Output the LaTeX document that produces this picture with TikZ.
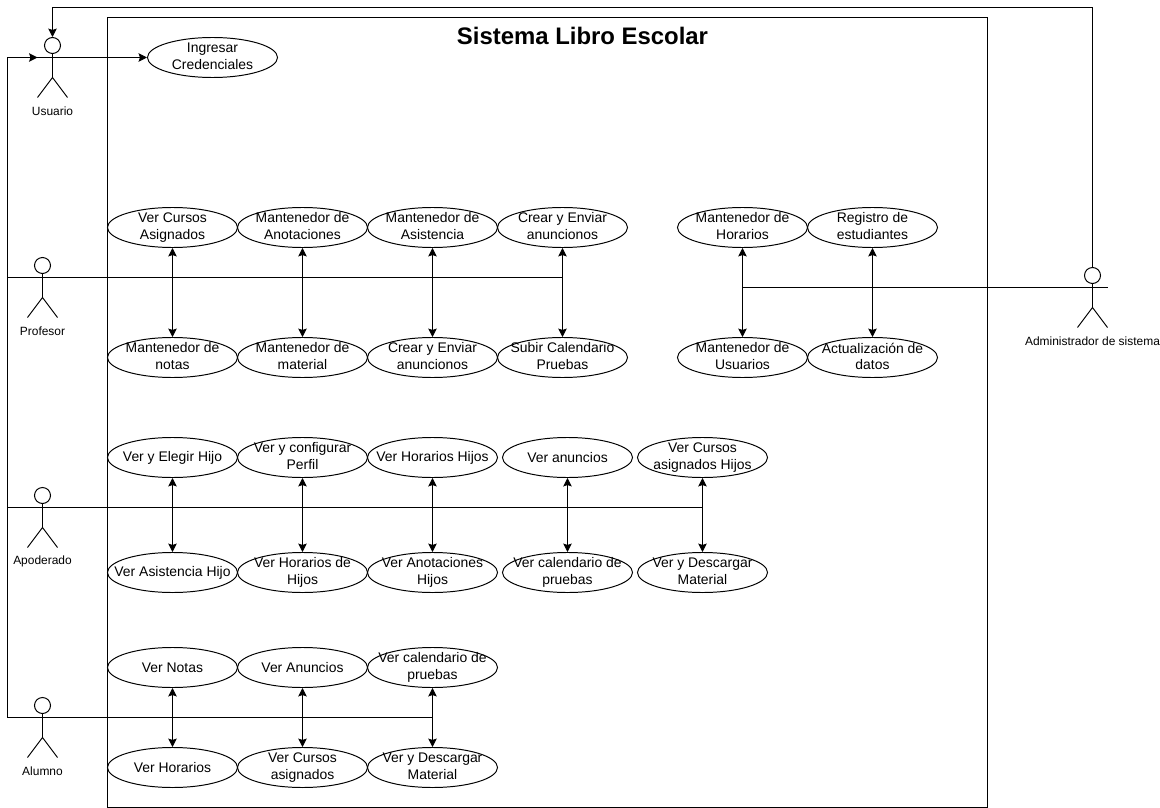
\documentclass[tikz,border=0pt]{standalone}
\usepackage{fontspec}
\setmainfont{Liberation Sans}
\usetikzlibrary{shapes.geometric, arrows.meta}
\newcommand{\guia}{\rule[-1.6pt]{0pt}{10pt}}
\tikzset{
	casouso/.style={draw, linea, ellipse, inner xsep=-2cm, inner ysep=-1cm, minimum width=3.25cm, minimum height=1cm, align=center, font=\fontsize{9.9}{12}\selectfont, execute at begin node=\guia, execute at end node=\guia},
	cabeza/.style={draw, circle, inner sep=0pt, minimum size=0.4cm},
	etiqueta/.style={inner sep=0pt, font=\fontsize{8.5}{10}\selectfont},
	titulo/.style={inner sep=0pt, font=\fontsize{17}{20}\selectfont\bfseries},
	linea/.style={line width=.7pt}
}
% nombre, x, y de la cabeza, y de la etiqueta, texto
\newcommand{\actorfig}[5]{
	\node[cabeza, linea] (#1) at (#2, #3) {};
	\coordinate (#1brazo) at (#2, #3+12);
	\draw[linea] (#1.south) -- (#2, #3+32);
	\draw[linea] (#2-15, #3+12) -- (#2+15, #3+12);
	\draw[linea] (#2-15, #3+52) -- (#2, #3+32) -- (#2+15, #3+52);
	\node[etiqueta] (#1texto) at (#2, #4) {#5};
}
\begin{document}
\begin{tikzpicture}[x=0.025cm, y=-0.025cm, >={Stealth[length=6pt, width=6pt, inset=1pt]}]
	\useasboundingbox (-0.5,-0.5) rectangle (1159.5,807.5);
	\fill[white] (-0.5,-0.5) rectangle (1159.5,807.5);

	% Sistema
	\node[draw, linea, minimum width=22cm, minimum height=19.75cm, inner sep=0pt] (sistema) at (547, 412) {};
	\node[titulo] (tituloSistema) at (582, 35.5) {Sistema Libro Escolar};

	% Actores
	\actorfig{usuario}{52}{45}{110.5}{Usuario}
	\actorfig{profesor}{42}{265}{331}{Profesor}
	\actorfig{apoderado}{42}{495}{561}{Apoderado}
	\actorfig{alumno}{42}{705}{771}{Alumno}
	\actorfig{admin}{1092}{275}{341}{Administrador de sistema}

	\node[casouso] (credenciales) at (212, 57) {Ingresar\\Credenciales};

	% Profesor
	\node[casouso] (cursos) at (172, 227) {Ver Cursos\\Asignados};
	\node[casouso] (anotaciones) at (302, 227) {Mantenedor de\\Anotaciones};
	\node[casouso] (asistencia) at (432, 227) {Mantenedor de\\Asistencia};
	\node[casouso] (anuncios) at (562, 227) {Crear y Enviar\\anuncionos};
	\node[casouso] (notas) at (172, 357) {Mantenedor de\\notas};
	\node[casouso] (material) at (302, 357) {Mantenedor de\\material};
	\node[casouso] (anunciosB) at (432, 357) {Crear y Enviar\\anuncionos};
	\node[casouso] (calendario) at (562, 357) {Subir Calendario\\Pruebas};

	% Administrador
	\node[casouso] (horarios) at (742, 227) {Mantenedor de\\Horarios};
	\node[casouso] (registro) at (872, 227) {Registro de\\estudiantes};
	\node[casouso] (usuarios) at (742, 357) {Mantenedor de\\Usuarios};
	\node[casouso] (datos) at (872, 357) {Actualización de\\datos};

	% Apoderado
	\node[casouso] (elegir) at (172, 457) {Ver y Elegir Hijo};
	\node[casouso] (perfil) at (302, 457) {Ver y configurar\\Perfil};
	\node[casouso] (horariosH) at (432, 457) {Ver Horarios Hijos};
	\node[casouso] (anunciosH) at (567, 457) {Ver anuncios};
	\node[casouso] (cursosH) at (702, 457) {Ver Cursos\\asignados Hijos};
	\node[casouso] (asistenciaH) at (172, 572) {Ver Asistencia Hijo};
	\node[casouso] (horariosDe) at (302, 572) {Ver Horarios de\\Hijos};
	\node[casouso] (anotacionesH) at (432, 572) {Ver Anotaciones\\Hijos};
	\node[casouso] (calendarioH) at (567, 572) {Ver calendario de\\pruebas};
	\node[casouso] (materialH) at (702, 572) {Ver y Descargar\\Material};

	% Alumno
	\node[casouso] (verNotas) at (172, 667) {Ver Notas};
	\node[casouso] (verAnuncios) at (302, 667) {Ver Anuncios};
	\node[casouso] (verCalendario) at (432, 667) {Ver calendario de\\pruebas};
	\node[casouso] (verHorarios) at (172, 767) {Ver Horarios};
	\node[casouso] (verCursos) at (302, 767) {Ver Cursos\\asignados};
	\node[casouso] (verMaterial) at (432, 767) {Ver y Descargar\\Material};

	% Lineas de los actores
	\coordinate (rielArriba) at (7, 57);
	\coordinate (rielProfesor) at (7, 277);
	\coordinate (rielApoderado) at (7, 507);
	\coordinate (rielAbajo) at (7, 717);
	\coordinate (llegaUsuario) at (37, 57);
	\coordinate (arribaAdmin) at (1092, 7);
	\coordinate (arribaUsuario) at (52, 7);
	\coordinate (finAdmin) at (1107, 287);

	\draw[->, linea] (verCalendario.south |- rielAbajo) -- (rielAbajo) -- (rielArriba) -- (llegaUsuario);
	\draw[->, linea] (llegaUsuario) -- (credenciales.west);
	\draw[linea] (rielProfesor) -- (anuncios.south |- rielProfesor);
	\draw[linea] (rielApoderado) -- (cursosH.south |- rielApoderado);
	\draw[linea] (horarios.south |- finAdmin) -- (finAdmin);
	\draw[->, linea] (admin.north) -- (arribaAdmin) -- (arribaUsuario) -- (usuario.north);

	% Flechas entre casos
	\draw[<->, linea] (cursos) -- (notas);
	\draw[<->, linea] (anotaciones) -- (material);
	\draw[<->, linea] (asistencia) -- (anunciosB);
	\draw[<->, linea] (anuncios) -- (calendario);
	\draw[<->, linea] (horarios) -- (usuarios);
	\draw[<->, linea] (registro) -- (datos);
	\draw[<->, linea] (elegir) -- (asistenciaH);
	\draw[<->, linea] (perfil) -- (horariosDe);
	\draw[<->, linea] (horariosH) -- (anotacionesH);
	\draw[<->, linea] (anunciosH) -- (calendarioH);
	\draw[<->, linea] (cursosH) -- (materialH);
	\draw[<->, linea] (verNotas) -- (verHorarios);
	\draw[<->, linea] (verAnuncios) -- (verCursos);
	\draw[<->, linea] (verCalendario) -- (verMaterial);
\end{tikzpicture}
\end{document}
